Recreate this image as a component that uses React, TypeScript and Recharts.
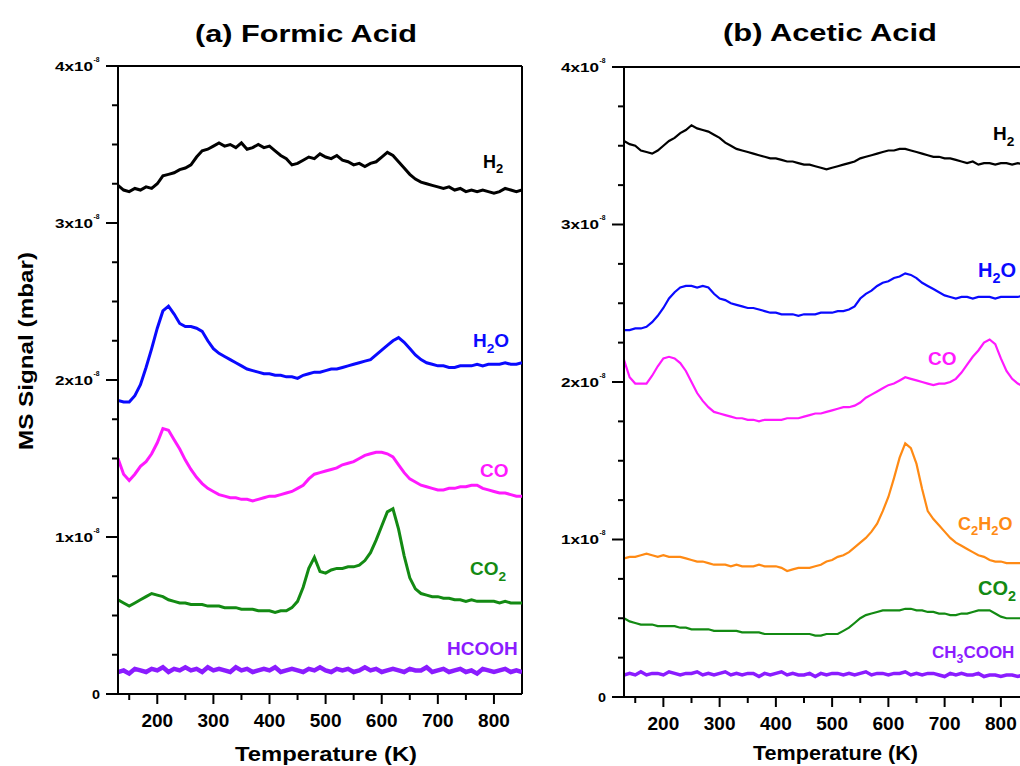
import React from 'react';
import { LineChart, Line, XAxis, YAxis, ReferenceLine } from 'recharts';

// temperature grid (K), shared by both panels
const TEMPS = [
  130, 140, 150, 160, 170, 180, 190, 200, 210, 220,
  230, 240, 250, 260, 270, 280, 290, 300, 310, 320,
  330, 340, 350, 360, 370, 380, 390, 400, 410, 420,
  430, 440, 450, 460, 470, 480, 490, 500, 510, 520,
  530, 540, 550, 560, 570, 580, 590, 600, 610, 620,
  630, 640, 650, 660, 670, 680, 690, 700, 710, 720,
  730, 740, 750, 760, 770, 780, 790, 800, 810, 820,
  830, 840, 850,
];

// (a) Formic acid, MS signal in units of 1e-8 mbar
const H2_A = [
  3.24, 3.21, 3.20, 3.22, 3.21, 3.23, 3.22, 3.25, 3.30, 3.31,
  3.32, 3.34, 3.35, 3.37, 3.42, 3.46, 3.47, 3.49, 3.51, 3.49,
  3.50, 3.48, 3.51, 3.47, 3.48, 3.50, 3.48, 3.49, 3.46, 3.43,
  3.41, 3.37, 3.38, 3.40, 3.42, 3.41, 3.44, 3.42, 3.41, 3.43,
  3.40, 3.39, 3.37, 3.38, 3.36, 3.38, 3.39, 3.42, 3.45, 3.43,
  3.39, 3.35, 3.31, 3.28, 3.26, 3.25, 3.24, 3.23, 3.22, 3.23,
  3.21, 3.22, 3.20, 3.21, 3.20, 3.21, 3.20, 3.19, 3.20, 3.22,
  3.21, 3.20, 3.21,
];
const H2O_A = [
  1.87, 1.86, 1.86, 1.90, 1.97, 2.08, 2.20, 2.33, 2.44, 2.47,
  2.42, 2.36, 2.34, 2.34, 2.33, 2.31, 2.25, 2.20, 2.17, 2.15,
  2.13, 2.11, 2.09, 2.07, 2.06, 2.05, 2.04, 2.04, 2.03, 2.03,
  2.02, 2.02, 2.01, 2.03, 2.04, 2.05, 2.05, 2.06, 2.07, 2.07,
  2.08, 2.09, 2.10, 2.11, 2.12, 2.13, 2.16, 2.19, 2.22, 2.25,
  2.27, 2.24, 2.20, 2.16, 2.13, 2.11, 2.10, 2.09, 2.09, 2.08,
  2.08, 2.09, 2.09, 2.09, 2.10, 2.09, 2.10, 2.10, 2.10, 2.11,
  2.10, 2.10, 2.11,
];
const CO_A = [
  1.50, 1.40, 1.36, 1.40, 1.45, 1.48, 1.53, 1.60, 1.69, 1.68,
  1.62, 1.56, 1.49, 1.43, 1.38, 1.34, 1.31, 1.29, 1.27, 1.26,
  1.25, 1.25, 1.24, 1.24, 1.23, 1.24, 1.25, 1.26, 1.26, 1.27,
  1.28, 1.29, 1.31, 1.33, 1.37, 1.40, 1.41, 1.42, 1.43, 1.44,
  1.46, 1.47, 1.48, 1.50, 1.52, 1.53, 1.54, 1.54, 1.53, 1.51,
  1.46, 1.41, 1.37, 1.35, 1.33, 1.32, 1.31, 1.30, 1.30, 1.31,
  1.31, 1.32, 1.32, 1.33, 1.33, 1.31, 1.30, 1.29, 1.28, 1.28,
  1.27, 1.26, 1.26,
];
const CO2_A = [
  0.60, 0.58, 0.56, 0.58, 0.60, 0.62, 0.64, 0.63, 0.62, 0.60,
  0.59, 0.58, 0.58, 0.57, 0.57, 0.57, 0.56, 0.56, 0.56, 0.55,
  0.55, 0.55, 0.54, 0.54, 0.54, 0.53, 0.53, 0.53, 0.52, 0.53,
  0.53, 0.55, 0.59, 0.68, 0.80, 0.87, 0.78, 0.77, 0.79, 0.80,
  0.80, 0.81, 0.81, 0.82, 0.85, 0.90, 0.98, 1.07, 1.16, 1.18,
  1.05, 0.88, 0.74, 0.67, 0.64, 0.63, 0.62, 0.62, 0.61, 0.61,
  0.60, 0.60, 0.59, 0.60, 0.59, 0.59, 0.59, 0.59, 0.58, 0.59,
  0.58, 0.58, 0.58,
];
const HCOOH_A = [
  0.14, 0.15, 0.13, 0.16, 0.15, 0.14, 0.16, 0.15, 0.17, 0.14,
  0.16, 0.15, 0.17, 0.15, 0.16, 0.14, 0.17, 0.15, 0.16, 0.15,
  0.14, 0.17, 0.15, 0.16, 0.14, 0.15, 0.16, 0.15, 0.17, 0.14,
  0.15, 0.16, 0.15, 0.14, 0.16, 0.15, 0.17, 0.15, 0.14, 0.16,
  0.15, 0.16, 0.14, 0.15, 0.17, 0.15, 0.16, 0.14, 0.15, 0.16,
  0.15, 0.14, 0.16, 0.15, 0.15, 0.17, 0.14, 0.15, 0.16, 0.14,
  0.15, 0.16, 0.14, 0.15, 0.13, 0.16, 0.15, 0.14, 0.15, 0.16,
  0.14, 0.15, 0.14,
];

// (b) Acetic acid
const H2_B = [
  3.53, 3.51, 3.50, 3.47, 3.46, 3.45, 3.47, 3.50, 3.53, 3.55,
  3.58, 3.60, 3.63, 3.61, 3.60, 3.59, 3.57, 3.55, 3.52, 3.50,
  3.48, 3.47, 3.46, 3.45, 3.44, 3.43, 3.42, 3.42, 3.41, 3.40,
  3.40, 3.39, 3.38, 3.38, 3.37, 3.36, 3.35, 3.36, 3.37, 3.38,
  3.39, 3.40, 3.42, 3.43, 3.44, 3.45, 3.46, 3.47, 3.47, 3.48,
  3.48, 3.47, 3.46, 3.45, 3.44, 3.43, 3.43, 3.42, 3.42, 3.41,
  3.40, 3.39, 3.40, 3.38, 3.39, 3.39, 3.38, 3.39, 3.39, 3.38,
  3.39, 3.38, 3.39,
];
const H2O_B = [
  2.33, 2.33, 2.34, 2.34, 2.35, 2.38, 2.42, 2.47, 2.53, 2.57,
  2.60, 2.61, 2.61, 2.60, 2.61, 2.60, 2.56, 2.53, 2.52, 2.50,
  2.49, 2.48, 2.47, 2.47, 2.46, 2.45, 2.44, 2.44, 2.43, 2.43,
  2.43, 2.42, 2.43, 2.43, 2.43, 2.44, 2.44, 2.44, 2.45, 2.45,
  2.46, 2.48, 2.53, 2.56, 2.58, 2.61, 2.63, 2.64, 2.66, 2.67,
  2.69, 2.68, 2.66, 2.63, 2.61, 2.59, 2.57, 2.55, 2.54, 2.53,
  2.54, 2.54, 2.53, 2.54, 2.54, 2.54, 2.53, 2.54, 2.54, 2.54,
  2.54, 2.55, 2.55,
];
const CO_B = [
  2.14, 2.03, 1.99, 1.99, 1.99, 2.04, 2.10, 2.15, 2.16, 2.15,
  2.12, 2.07, 2.00, 1.93, 1.88, 1.84, 1.81, 1.80, 1.79, 1.78,
  1.77, 1.77, 1.76, 1.76, 1.75, 1.76, 1.76, 1.76, 1.76, 1.77,
  1.77, 1.77, 1.78, 1.79, 1.80, 1.80, 1.81, 1.82, 1.83, 1.84,
  1.84, 1.85, 1.87, 1.90, 1.92, 1.94, 1.96, 1.98, 1.99, 2.01,
  2.03, 2.02, 2.01, 2.00, 1.99, 1.98, 1.99, 1.99, 2.00, 2.02,
  2.06, 2.11, 2.16, 2.20, 2.25, 2.27, 2.24, 2.15, 2.07, 2.02,
  1.99, 1.97, 1.96,
];
const C2H2O_B = [
  0.88, 0.89, 0.89, 0.90, 0.91, 0.90, 0.89, 0.90, 0.89, 0.89,
  0.89, 0.88, 0.87, 0.86, 0.86, 0.85, 0.84, 0.84, 0.84, 0.83,
  0.84, 0.83, 0.83, 0.83, 0.84, 0.83, 0.83, 0.83, 0.82, 0.80,
  0.81, 0.82, 0.82, 0.82, 0.83, 0.84, 0.86, 0.87, 0.89, 0.90,
  0.92, 0.95, 0.98, 1.01, 1.05, 1.10, 1.18, 1.27, 1.39, 1.52,
  1.61, 1.58, 1.48, 1.32, 1.18, 1.13, 1.09, 1.05, 1.01, 0.98,
  0.96, 0.94, 0.92, 0.90, 0.89, 0.87, 0.86, 0.86, 0.85, 0.85,
  0.85, 0.85, 0.85,
];
const CO2_B = [
  0.50, 0.48, 0.47, 0.46, 0.46, 0.46, 0.45, 0.45, 0.45, 0.45,
  0.44, 0.44, 0.43, 0.43, 0.43, 0.43, 0.42, 0.42, 0.42, 0.42,
  0.42, 0.41, 0.41, 0.41, 0.41, 0.40, 0.40, 0.40, 0.40, 0.40,
  0.40, 0.40, 0.40, 0.40, 0.39, 0.39, 0.40, 0.40, 0.40, 0.42,
  0.44, 0.47, 0.50, 0.52, 0.53, 0.54, 0.55, 0.55, 0.55, 0.55,
  0.56, 0.56, 0.55, 0.55, 0.54, 0.54, 0.53, 0.53, 0.52, 0.52,
  0.53, 0.53, 0.54, 0.55, 0.55, 0.55, 0.53, 0.51, 0.50, 0.50,
  0.50, 0.50, 0.50,
];
const CH3COOH_B = [
  0.14, 0.15, 0.14, 0.16, 0.14, 0.15, 0.15, 0.14, 0.16, 0.15,
  0.14, 0.15, 0.15, 0.16, 0.14, 0.15, 0.14, 0.15, 0.16, 0.14,
  0.15, 0.14, 0.15, 0.15, 0.13, 0.15, 0.14, 0.15, 0.16, 0.14,
  0.15, 0.14, 0.14, 0.15, 0.13, 0.15, 0.14, 0.15, 0.15, 0.14,
  0.15, 0.14, 0.15, 0.16, 0.14, 0.15, 0.15, 0.14, 0.15, 0.15,
  0.16, 0.14, 0.15, 0.14, 0.15, 0.15, 0.14, 0.13, 0.15, 0.14,
  0.15, 0.14, 0.14, 0.15, 0.13, 0.14, 0.14, 0.13, 0.14, 0.14,
  0.13, 0.14, 0.13,
];

const X_TICKS = [150, 200, 250, 300, 350, 400, 450, 500, 550, 600, 650, 700, 750, 800];
const Y_TICKS = [0, 0.25, 0.5, 0.75, 1, 1.25, 1.5, 1.75, 2, 2.25, 2.5, 2.75, 3, 3.25, 3.5, 3.75, 4];

const FONT = "'Liberation Sans', Arial, Helvetica, sans-serif";
const BLACK = '#000000';
const BLUE = '#0a0aff';
const MAGENTA = '#ff19ff';
const GREEN = '#138a13';
const PURPLE = '#8b1cff';
const ORANGE = '#ff8a14';

const dataA = TEMPS.map((t, i) => ({
  t, h2: H2_A[i], h2o: H2O_A[i], co: CO_A[i], co2: CO2_A[i], acid: HCOOH_A[i],
}));
const dataB = TEMPS.map((t, i) => ({
  t, h2: H2_B[i], h2o: H2O_B[i], co: CO_B[i], ketene: C2H2O_B[i], co2: CO2_B[i], acid: CH3COOH_B[i],
}));

const YTick = (props: any) => {
  const { x, y, payload } = props;
  const v = payload.value;
  const major = Number.isInteger(v);
  return (
    <g>
      <line x1={x - (major ? 12 : 6)} x2={x} y1={y} y2={y} stroke={BLACK} strokeWidth={2} />
      {major && v === 0 && (
        <text x={x - 26} y={y + 4.5} fontSize={13} fontWeight="bold" fontFamily={FONT} fill={BLACK}
          textLength={8} lengthAdjust="spacingAndGlyphs">0</text>
      )}
      {major && v !== 0 && (
        <g fontFamily={FONT} fontWeight="bold" fill={BLACK}>
          <text x={x - 63} y={y + 4.5} fontSize={12} textLength={38} lengthAdjust="spacingAndGlyphs">{`${v}x10`}</text>
          <text x={x - 24.5} y={y - 4.5} fontSize={8} textLength={6} lengthAdjust="spacingAndGlyphs">-8</text>
        </g>
      )}
    </g>
  );
};

const XTick = (props: any) => {
  const { x, y, payload } = props;
  const v = payload.value;
  const major = v % 100 === 0;
  return (
    <g>
      <line x1={x} x2={x} y1={y} y2={y + (major ? 10 : 6)} stroke={BLACK} strokeWidth={2} />
      {major && (
        <text x={x} y={y + 33} textAnchor="middle" fontSize={19} fontWeight="bold" fontFamily={FONT}
          fill={BLACK}>{v}</text>
      )}
    </g>
  );
};

// chemical formula with digits as subscripts
const Chem = ({ x, y, text, color, size = 19 }: { x: number; y: number; text: string; color: string; size?: number }) => {
  const parts = text.split(/(\d+)/).filter(Boolean);
  let wasSub = false;
  return (
    <text x={x} y={y} fill={color} fontSize={size} fontWeight="bold" fontFamily={FONT}>
      {parts.map((p, i) => {
        const isSub = /^\d+$/.test(p);
        const dy = isSub ? size * 0.3 : wasSub ? -size * 0.3 : 0;
        wasSub = isSub;
        return (
          <tspan key={i} dy={dy} fontSize={isSub ? size * 0.72 : size}>{p}</tspan>
        );
      })}
    </text>
  );
};

const axisStroke = { stroke: BLACK, strokeWidth: 2 };

function Panel({ data, keys, width, margin, strokeWidth }: any) {
  return (
    <LineChart width={width} height={766} data={data} margin={margin}>
      <XAxis
        type="number" dataKey="t" domain={[130, 850]} ticks={X_TICKS} interval={0}
        tickSize={0} tickMargin={0} tickLine={false} axisLine={axisStroke} tick={<XTick />}
        allowDataOverflow
      />
      <YAxis
        type="number" domain={[0, 4]} ticks={Y_TICKS} interval={0}
        tickSize={0} tickMargin={0} tickLine={false} axisLine={axisStroke} tick={<YTick />}
        allowDataOverflow
      />
      <ReferenceLine y={4} stroke={BLACK} strokeWidth={2} />
      <ReferenceLine x={850} stroke={BLACK} strokeWidth={2} />
      {keys.map((k: any) => (
        <Line
          key={k.key} type="linear" dataKey={k.key} stroke={k.color} strokeWidth={k.width ?? strokeWidth}
          dot={false} isAnimationActive={false}
        />
      ))}
    </LineChart>
  );
}

export default function App() {
  const keysA = [
    { key: 'h2', color: BLACK },
    { key: 'h2o', color: BLUE },
    { key: 'co', color: MAGENTA },
    { key: 'co2', color: GREEN },
    { key: 'acid', color: PURPLE, width: 4.5 },
  ];
  const keysB = [
    { key: 'h2', color: BLACK },
    { key: 'h2o', color: BLUE },
    { key: 'co', color: MAGENTA },
    { key: 'ketene', color: ORANGE },
    { key: 'co2', color: GREEN },
    { key: 'acid', color: PURPLE, width: 3.5 },
  ];
  return (
    <div style={{ position: 'absolute', left: 0, top: 0, width: 1020, height: 766, overflow: 'hidden', background: '#fff' }}>
      <div style={{ position: 'absolute', left: 0, top: 0 }}>
        <Panel data={dataA} keys={keysA} width={530} strokeWidth={3}
          margin={{ top: 66, right: 8, bottom: 42, left: 58 }} />
      </div>
      <div style={{ position: 'absolute', left: 506, top: 0 }}>
        <Panel data={dataB} keys={keysB} width={540} strokeWidth={2.2}
          margin={{ top: 67, right: 17, bottom: 39, left: 58 }} />
      </div>
      <svg width={1020} height={766} style={{ position: 'absolute', left: 0, top: 0, pointerEvents: 'none' }}>
        <g fontFamily={FONT} fontWeight="bold" fill={BLACK}>
          <text x={195} y={42} fontSize={23} textLength={222} lengthAdjust="spacingAndGlyphs">(a) Formic Acid</text>
          <text x={723} y={41} fontSize={23} textLength={214} lengthAdjust="spacingAndGlyphs">(b) Acetic Acid</text>
          <text x={235} y={761} fontSize={21} textLength={182} lengthAdjust="spacingAndGlyphs">Temperature (K)</text>
          <text x={753} y={760} fontSize={21} textLength={165} lengthAdjust="spacingAndGlyphs">Temperature (K)</text>
          <text x={33} y={450} fontSize={21} textLength={198} lengthAdjust="spacingAndGlyphs"
            transform="rotate(-90 33 450)">MS Signal (mbar)</text>
        </g>
        <Chem x={483} y={168} text="H2" color={BLACK} size={18} />
        <Chem x={473} y={347} text="H2O" color={BLUE} />
        <Chem x={480} y={477} text="CO" color={MAGENTA} />
        <Chem x={470} y={575} text="CO2" color={GREEN} />
        <Chem x={447} y={655} text="HCOOH" color={PURPLE} />
        <Chem x={993} y={140} text="H2" color={BLACK} size={19} />
        <Chem x={978} y={277} text="H2O" color={BLUE} size={20} />
        <Chem x={928} y={365} text="CO" color={MAGENTA} />
        <Chem x={958} y={530} text="C2H2O" color={ORANGE} size={18} />
        <Chem x={978} y={595} text="CO2" color={GREEN} size={20} />
        <Chem x={932} y={658} text="CH3COOH" color={PURPLE} size={17} />
      </svg>
    </div>
  );
}
